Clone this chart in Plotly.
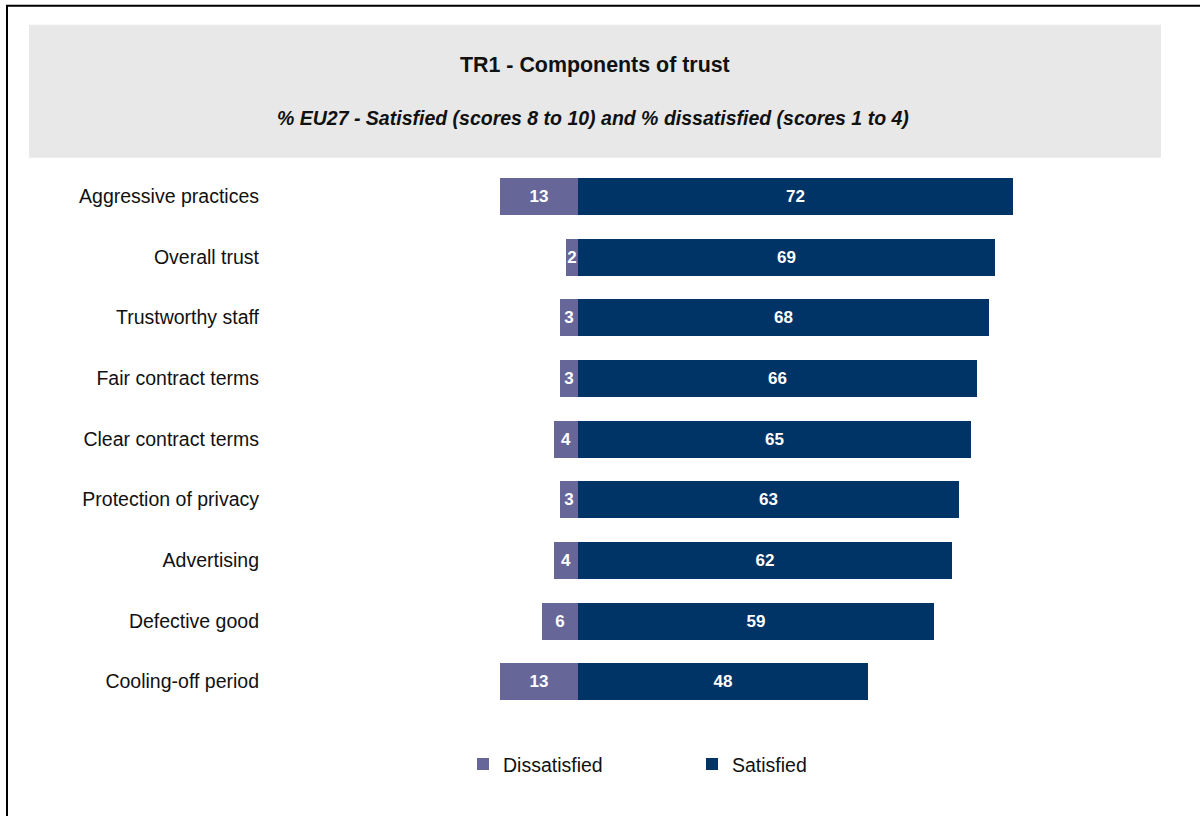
import plotly.graph_objects as go

# Components of trust, EU27 (%)
categories = [
    "Aggressive practices",
    "Overall trust",
    "Trustworthy staff",
    "Fair contract terms",
    "Clear contract terms",
    "Protection of privacy",
    "Advertising",
    "Defective good",
    "Cooling-off period",
]
dissatisfied = [13, 2, 3, 3, 4, 3, 4, 6, 13]
satisfied = [72, 69, 68, 66, 65, 63, 62, 59, 48]

DISSAT_COLOR = "#666699"
SAT_COLOR = "#003366"
FONT = "Liberation Sans, Arial, sans-serif"

W, H = 1200, 816
# plot area in pixels
PL, PR, PT, PB = 270, 1160, 166.2, 711.8


def px_x(px):
    return (px - PL) / (PR - PL)


def px_y(py):
    return (PB - py) / (PB - PT)


fig = go.Figure()
fig.add_trace(go.Bar(
    name="Dissatisfied",
    y=categories,
    x=[-v for v in dissatisfied],
    orientation="h",
    marker=dict(color=DISSAT_COLOR, line=dict(width=0)),
    text=[str(v) for v in dissatisfied],
    textposition="inside",
    insidetextanchor="middle",
    textangle=0,
    textfont=dict(family=FONT, size=17, color="white", weight="bold"),
    width=0.61,
    hoverinfo="skip",
))
fig.add_trace(go.Bar(
    name="Satisfied",
    y=categories,
    x=satisfied,
    orientation="h",
    marker=dict(color=SAT_COLOR, line=dict(width=0)),
    text=[str(v) for v in satisfied],
    textposition="inside",
    insidetextanchor="middle",
    textangle=0,
    textfont=dict(family=FONT, size=17, color="white", weight="bold"),
    width=0.61,
    hoverinfo="skip",
))

shapes = [
    # grey header panel
    dict(type="rect", xref="paper", yref="paper",
         x0=px_x(29), x1=px_x(1161), y0=px_y(158), y1=px_y(25),
         fillcolor="#e8e8e8", line=dict(width=0), layer="below"),
    # frame on the left and top edges
    dict(type="path", xref="paper", yref="paper",
         path=f"M {px_x(7)},{px_y(830)} L {px_x(7)},{px_y(6)} L {px_x(1210)},{px_y(6)}",
         line=dict(color="black", width=2)),
]

annotations = [
    dict(text="<b>TR1 - Components of trust</b>", xref="paper", yref="paper",
         x=px_x(595), y=px_y(65), showarrow=False, xanchor="center", yanchor="middle",
         font=dict(family=FONT, size=21.4, color="#111111")),
    dict(text="<b><i>% EU27 - Satisfied (scores 8 to 10) and % dissatisfied (scores 1 to 4)</i></b>",
         xref="paper", yref="paper",
         x=px_x(593), y=px_y(118), showarrow=False, xanchor="center", yanchor="middle",
         font=dict(family=FONT, size=19.5, color="#111111")),
]

fig.update_layout(
    width=W, height=H,
    margin=dict(l=PL, r=W - PR, t=PT, b=H - PB, pad=0),
    paper_bgcolor="white",
    plot_bgcolor="white",
    barmode="relative",
    bargap=0,
    uniformtext=dict(minsize=17, mode="show"),
    font=dict(family=FONT, color="#111111"),
    xaxis=dict(range=[-51, 96.36], visible=False, fixedrange=True),
    yaxis=dict(
        autorange="reversed",
        showgrid=False, zeroline=False, showline=False,
        ticks="", ticklabelstandoff=10,
        tickfont=dict(family=FONT, size=19.5, color="#111111"),
        fixedrange=True,
    ),
    legend=dict(
        orientation="h",
        x=px_x(463), xanchor="left",
        y=px_y(764), yanchor="middle",
        entrywidth=184, entrywidthmode="pixels",
        font=dict(family=FONT, size=19.5, color="#111111"),
        bgcolor="rgba(0,0,0,0)",
        traceorder="normal",
    ),
    shapes=shapes,
    annotations=annotations,
)

fig.write_html("out.html", config={"displayModeBar": False})
